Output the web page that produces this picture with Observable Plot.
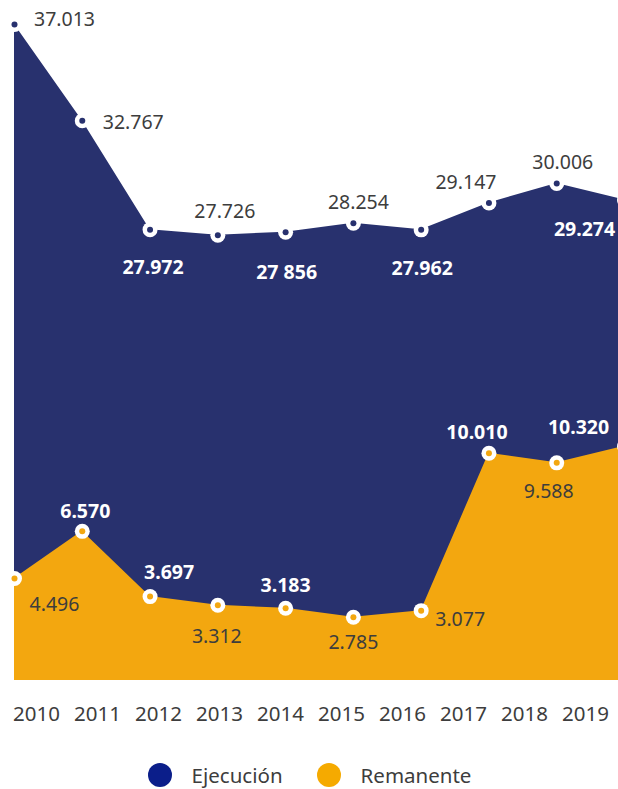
<!DOCTYPE html>
<html>
<head>
<meta charset="utf-8">
<script src="https://cdn.jsdelivr.net/npm/d3@7"></script>
<script src="https://cdn.jsdelivr.net/npm/@observablehq/plot@0.6"></script>
<style>
  html, body { margin: 0; padding: 0; background: #fff; overflow: hidden; }
  #wrap { width: 618px; font-family: "Noto Sans", sans-serif; }
  #wrap svg { display: block; overflow: hidden; }
  .legend { display: flex; justify-content: center; align-items: center; height: 40px; margin-top: 15px; padding-left: 1px; }
  .item { display: flex; align-items: center; font-size: 20.5px; line-height: 24px; color: #3d3d3d; }
  .sw { width: 24px; height: 24px; border-radius: 50%; margin-right: 20px; }
  .item + .item { margin-left: 34px; }
</style>
</head>
<body>
<div id="wrap"></div>
<script>
// ---- data ----
const years = [2010, 2011, 2012, 2013, 2014, 2015, 2016, 2017, 2018, 2019];
const ejecucion = [37013, 32767, 27972, 27726, 27856, 28254, 27962, 29147, 30006, 29274];
const remanente = [4496, 6570, 3697, 3312, 3183, 2785, 3077, 10010, 9588, 10320];
const ejecucionLabels = ["37.013", "32.767", "27.972", "27.726", "27 856", "28.254", "27.962", "29.147", "30.006", "29.274"];
const remanenteLabels = ["4.496", "6.570", "3.697", "3.312", "3.183", "2.785", "3.077", "10.010", "9.588", "10.320"];
const seriesNames = ["Ejecución", "Remanente"];

// broken axis: the Ejecución series is drawn shifted down by this amount
const EJEC_OFFSET = 8110;

// ---- styling / layout ----
const NAVY = "#28316e";
const ORANGE = "#f3a70f";
const GRAY = "#3d3d3d";
const FONT = "Noto Sans, sans-serif";

// label placement relative to each point: [dx, dy, bold/white]
const ejecPlace = [[50,-5,0],[51,2,0],[3,38,1],[7,-23,0],[1,40,1],[5,-20,0],[1,39,1],[-23,-20,0],[6,-21,0],[-40,30,1]];
const remPlace  = [[40,26,0],[3,-20,1],[19,-24,1],[-1,31,0],[0,-22,1],[0,25,0],[39,9,0],[-12,-21,1],[-8,29,0],[-46,-18,1]];

const rows = years.map((year, i) => ({
  year,
  ejec: ejecucion[i],
  ejecShown: ejecucion[i] - EJEC_OFFSET,
  rem: remanente[i],
  ejecLabel: ejecucionLabels[i],
  remLabel: remanenteLabels[i]
}));

const labelMarks = [];
rows.forEach((r, i) => {
  const [edx, edy, eb] = ejecPlace[i];
  labelMarks.push(Plot.text([r], {
    x: "year", y: "ejecShown", text: "ejecLabel", dx: edx, dy: edy,
    fill: eb ? "#fff" : GRAY, fontWeight: eb ? 700 : 400, fontSize: 19.5, fontFamily: FONT
  }));
  const [rdx, rdy, rb] = remPlace[i];
  labelMarks.push(Plot.text([r], {
    x: "year", y: "rem", text: "remLabel", dx: rdx, dy: rdy,
    fill: rb ? "#fff" : GRAY, fontWeight: rb ? 700 : 400, fontSize: 19.5, fontFamily: FONT
  }));
});

const PX_PER_UNIT = 0.0227;
const main = Plot.plot({
  width: 618,
  height: 690,
  margin: 0,
  x: { domain: [2010, 2019], range: [14, 624], axis: null },
  y: { domain: [0, 30000], range: [680, 680 - 30000 * PX_PER_UNIT], axis: null },
  style: { fontFamily: FONT, background: "#fff" },
  marks: [
    Plot.areaY(rows, { x: "year", y: "ejecShown", fill: NAVY, curve: "linear" }),
    Plot.areaY(rows, { x: "year", y: "rem", fill: ORANGE, curve: "linear" }),
    Plot.dot(rows, { x: "year", y: "ejecShown", r: 7.5, fill: "#fff", stroke: null }),
    Plot.dot(rows, { x: "year", y: "ejecShown", r: 3, fill: NAVY, stroke: null }),
    Plot.dot(rows, { x: "year", y: "rem", r: 7.5, fill: "#fff", stroke: null }),
    Plot.dot(rows, { x: "year", y: "rem", r: 3, fill: ORANGE, stroke: null }),
    ...labelMarks
  ]
});

const axis = Plot.plot({
  width: 618,
  height: 50,
  margin: 0,
  x: { type: "point", domain: years, range: [32, 589], padding: 0, axis: null },
  style: { fontFamily: FONT, background: "#fff" },
  marks: [
    Plot.text(years, { x: d => d, frameAnchor: "middle", dy: -1, text: d => String(d), fontSize: 20.5, fill: GRAY, fontFamily: FONT })
  ]
});

const wrap = document.getElementById("wrap");
wrap.appendChild(main);
wrap.appendChild(axis);

const legend = document.createElement("div");
legend.className = "legend";
const legendColors = ["#0b1e8a", "#f5aa00"];
seriesNames.forEach((name, i) => {
  const it = document.createElement("div");
  it.className = "item";
  const sw = document.createElement("span");
  sw.className = "sw";
  sw.style.background = legendColors[i];
  it.appendChild(sw);
  it.appendChild(document.createTextNode(name));
  legend.appendChild(it);
});
wrap.appendChild(legend);
</script>
</body>
</html>
